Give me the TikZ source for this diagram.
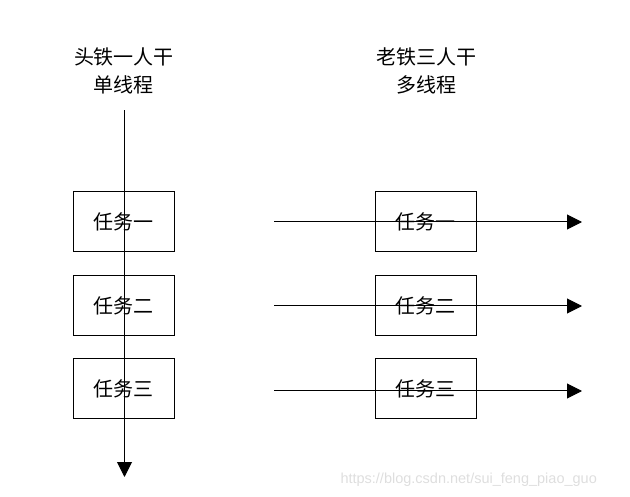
\documentclass[tikz,border=0pt]{standalone}
\usepackage{fontspec}
\setmainfont{Liberation Sans}
\newfontfamily\cjk{Noto Sans CJK SC}
\definecolor{wmgray}{RGB}{222,222,222}
\usepackage{tikz}
\usetikzlibrary{arrows.meta}

\begin{document}
\begin{tikzpicture}[x=1pt,y=-1pt,line width=1pt,
    task/.style={draw, minimum width=101pt, minimum height=60pt, inner sep=0pt, font=\cjk\fontsize{20}{24}\selectfont},
    title/.style={align=center, inner sep=0pt, font=\cjk\fontsize{20}{28}\selectfont},
    flow/.style={-{Triangle[length=15pt,width=15pt]}}
    ]
      \useasboundingbox (0,0) rectangle (630,497);
      \node[title] at (124,71) (single) {头铁一人干\\单线程};
      \node[title] at (426,71) (multi) {老铁三人干\\多线程};

      \node[task] at (123.5,222) (s1) {任务一};
      \node[task] at (123.5,306) (s2) {任务二};
      \node[task] at (123.5,389) (s3) {任务三};
      \node[task] at (425.5,222) (m1) {任务一};
      \node[task] at (425.5,306) (m2) {任务二};
      \node[task] at (425.5,389) (m3) {任务三};

      %\coordinate (sstart) at (single.south |- 0,110.5);
      \coordinate (sstart) at (124.5,110.5);
      \coordinate (send) at (124.5,477);
      \draw[flow] (sstart) -- (send);

      \coordinate (m1a) at (274,222);
      \coordinate (m1b) at (582,222);
      \coordinate (m2a) at (274,306);
      \coordinate (m2b) at (582,306);
      \coordinate (m3a) at (274,391);
      \coordinate (m3b) at (582,391);
      \draw[flow] (m1a) -- (m1b);
      \draw[flow] (m2a) -- (m2b);
      \draw[flow] (m3a) -- (m3b);

      \node[anchor=base west, inner sep=0pt, text=wmgray, font=\fontsize{14.5}{17}\selectfont] at (340,483) (mark) {https://blog.csdn.net/sui\_feng\_piao\_guo};
    \end{tikzpicture}
\end{document}
